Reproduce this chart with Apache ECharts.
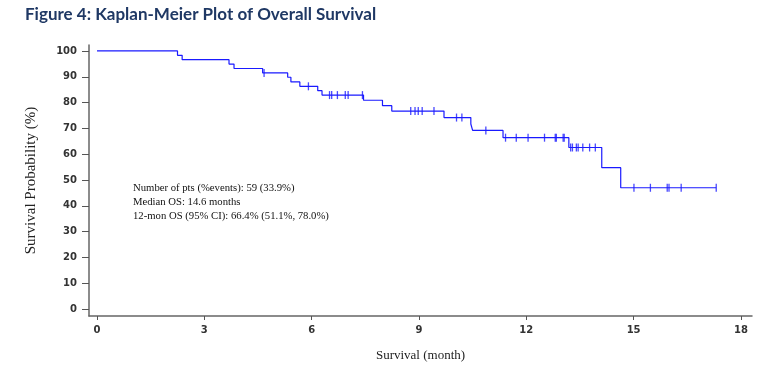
<!DOCTYPE html>
<html><head><meta charset="utf-8">
<script src="https://cdn.jsdelivr.net/npm/echarts@6/dist/echarts.min.js"></script>
<style>html,body{margin:0;padding:0;background:#fff}#c{width:769px;height:367px}</style>
</head><body><div id="c"></div>
<script>
// Kaplan-Meier step points: time (months) where survival drops, survival (%) after drop
const eventTimes = [0, 2.25, 2.38, 3.69, 3.83, 4.63, 5.33, 5.42, 5.67, 6.17, 6.29, 7.45, 7.98, 8.24, 9.70, 10.45, 10.50, 11.35, 13.19, 14.11, 14.64, 17.31];
const eventSurv  = [100, 98.3, 96.6, 94.9, 93.2, 91.5, 89.8, 88.0, 86.3, 84.6, 82.9, 80.9, 78.8, 76.7, 74.2, 71.7, 69.2, 66.4, 62.6, 54.8, 47.0, 47.0];
// Censored observations
const censorTimes = [4.67, 5.91, 6.50, 6.56, 6.72, 6.94, 7.02, 7.42, 8.77, 8.89, 8.98, 9.09, 9.42, 10.05, 10.20, 10.87, 11.42, 11.72, 12.05, 12.51, 12.81, 12.84, 13.03, 13.06, 13.24, 13.29, 13.40, 13.45, 13.58, 13.77, 13.93, 15.01, 15.47, 15.94, 15.99, 16.33, 17.31];
const censorSurv  = [91.5, 86.3, 82.9, 82.9, 82.9, 82.9, 82.9, 82.9, 76.7, 76.7, 76.7, 76.7, 76.7, 74.2, 74.2, 69.2, 66.4, 66.4, 66.4, 66.4, 66.4, 66.4, 66.4, 66.4, 62.6, 62.6, 62.6, 62.6, 62.6, 62.6, 62.6, 47.0, 47.0, 47.0, 47.0, 47.0, 47.0];
const xTicks = [0, 3, 6, 9, 12, 15, 18];
const yTicks = [0, 10, 20, 30, 40, 50, 60, 70, 80, 90, 100];
const annotation = ['Number of pts (%events): 59 (33.9%)', 'Median OS: 14.6 months', '12-mon OS (95% CI): 66.4% (51.1%, 78.0%)'];

const blue = '#1a1aff';
const chart = echarts.init(document.getElementById('c'));
chart.setOption({
  animation: false,
  title: {
    text: 'Figure 4: Kaplan-Meier Plot of Overall Survival',
    left: 20, top: 1,
    textStyle: {fontFamily: 'Lato', fontWeight: 'bold', fontSize: 17, color: '#1f3864'}
  },
  grid: {left: 89, right: 17, top: 45, bottom: 47},
  xAxis: {
    type: 'value', min: -0.224, max: 18.31,
    name: 'Survival (month)', nameLocation: 'middle', nameGap: 33,
    nameTextStyle: {fontFamily: 'Liberation Serif', fontSize: 13, color: '#222'},
    axisLine: {show: true, onZero: false, lineStyle: {color: '#666', width: 1.5}},
    axisTick: {show: true, customValues: xTicks, length: 4, lineStyle: {color: '#555'}},
    axisLabel: {customValues: xTicks, fontFamily: 'DejaVu Sans', fontWeight: 'bold', fontSize: 10, color: '#333', margin: 9},
    splitLine: {show: false}
  },
  yAxis: {
    type: 'value', min: -2.67, max: 102.3,
    name: 'Survival Probability (%)', nameLocation: 'middle', nameGap: 50, nameRotate: 90,
    nameTextStyle: {fontFamily: 'Liberation Serif', fontSize: 15, color: '#222'},
    axisLine: {show: true, onZero: false, lineStyle: {color: '#666', width: 1.5}},
    axisTick: {show: true, customValues: yTicks, length: 7, lineStyle: {color: '#555'}},
    axisLabel: {customValues: yTicks, fontFamily: 'DejaVu Sans', fontWeight: 'bold', fontSize: 10, color: '#333', margin: 12},
    splitLine: {show: false}
  },
  graphic: annotation.map((t, i) => ({
    type: 'text', left: 133, top: 183 + i * 14,
    style: {text: t, font: '10.7px "Liberation Serif"', fill: '#111'}
  })),
  series: [
    {
      type: 'line', step: 'end', showSymbol: false,
      data: eventTimes.map((t, i) => [t, eventSurv[i]]),
      lineStyle: {color: blue, width: 1.2}
    },
    {
      type: 'scatter', symbol: 'rect', symbolSize: [1.3, 8],
      data: censorTimes.map((t, i) => [t, censorSurv[i]]),
      itemStyle: {color: blue}
    }
  ]
});
</script></body></html>
